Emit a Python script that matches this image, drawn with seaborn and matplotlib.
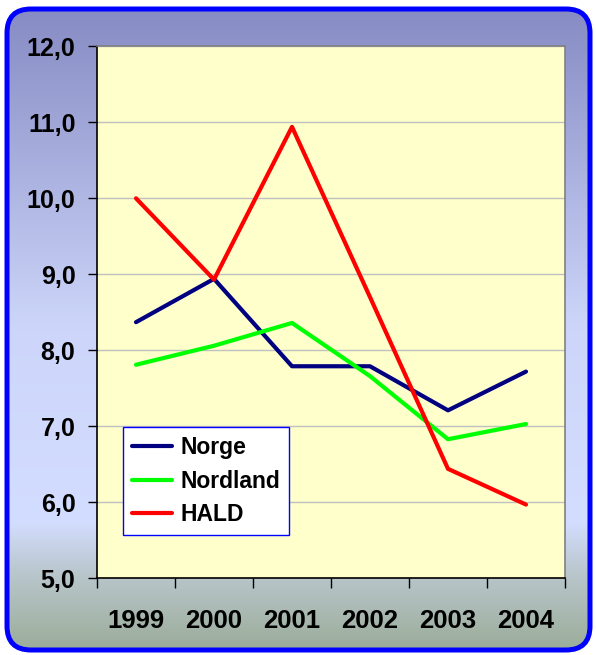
import numpy as np
import pandas as pd
import matplotlib
matplotlib.use("Agg")
import matplotlib.pyplot as plt
from matplotlib.colors import LinearSegmentedColormap
from matplotlib.patches import FancyBboxPatch
from matplotlib.ticker import FixedLocator
import seaborn as sns

years = ["1999", "2000", "2001", "2002", "2003", "2004"]
norge = [8.37, 8.94, 7.79, 7.79, 7.21, 7.72]
nordland = [7.81, 8.06, 8.36, 7.66, 6.83, 7.03]
hald = [10.0, 8.93, 10.94, 8.70, 6.44, 5.97]

series = ["Norge", "Nordland", "HALD"]
colors = ["#000080", "#00ff00", "#ff0000"]
y_ticks = [5, 6, 7, 8, 9, 10, 11, 12]

df = pd.DataFrame({
    "year": years * 3,
    "value": norge + nordland + hald,
    "serie": np.repeat(series, len(years)),
})

sns.set_style("white")
plt.rcParams["font.family"] = ["Liberation Sans", "DejaVu Sans"]
plt.rcParams["font.weight"] = "bold"
plt.rcParams["text.color"] = "black"
plt.rcParams["xtick.color"] = "black"
plt.rcParams["ytick.color"] = "black"

fig = plt.figure(figsize=(5.96, 6.55), dpi=100)

# background with rounded blue frame
bg = fig.add_axes([0, 0, 1, 1], zorder=-5)
bg.set_axis_off()
bg.set_xlim(0, 596)
bg.set_ylim(655, 0)
cmap = LinearSegmentedColormap.from_list("bg", [
    (0.0, "#868bc3"), (0.5, "#cdd6fa"), (0.8, "#d3ddff"),
    (0.88, "#b9c6cc"), (1.0, "#9aac98")])
grad = np.linspace(0, 1, 256).reshape(-1, 1)
img = bg.imshow(grad, cmap=cmap, aspect="auto", extent=(5, 592, 652, 7))
frame = FancyBboxPatch((7, 9), 583, 641, boxstyle="round,pad=0,rounding_size=24",
                       facecolor="none", edgecolor="#0000ff", linewidth=3.6)
bg.add_patch(frame)
img.set_clip_path(frame)

ax = fig.add_axes([97 / 596, 1 - 578.3 / 655, 468 / 596, 532 / 655])
ax.set_facecolor("#ffffcc")

sns.lineplot(data=df, x="year", y="value", hue="serie", palette=colors,
             linewidth=3, ax=ax, sort=False)

ax.set_xlim(-0.5, 5.5)
ax.set_ylim(5, 12)
ax.set_yticks(y_ticks)
ax.set_yticklabels([f"{v},0" for v in y_ticks])
ax.grid(axis="y", color="#c0c0c0", linewidth=1)
ax.set_axisbelow(True)
ax.set_xlabel("")
ax.set_ylabel("")

ax.xaxis.set_minor_locator(FixedLocator(np.arange(-0.5, 6, 1)))
ax.tick_params(axis="x", which="major", length=0, pad=22, labelsize=18.5,
               labelcolor="black")
ax.tick_params(axis="x", which="minor", direction="out", length=7, width=1,
               color="black", bottom=True)
ax.tick_params(axis="y", direction="out", length=6.5, width=1, color="black",
               pad=9, labelsize=18, labelcolor="black", left=True)

for side in ["left", "bottom"]:
    ax.spines[side].set_color("black")
    ax.spines[side].set_linewidth(1.2)
for side in ["top", "right"]:
    ax.spines[side].set_color("#808080")
    ax.spines[side].set_linewidth(1.2)

handles, labels = ax.get_legend_handles_labels()
leg = ax.legend(handles, labels, loc="lower left", bbox_to_anchor=(0.056, 0.081),
                frameon=True, fancybox=False, framealpha=1, edgecolor="#0000ff",
                prop={"size": 16.5, "weight": "bold"}, handlelength=1.75,
                handletextpad=0.35, labelspacing=0.45, borderpad=0.4,
                borderaxespad=0)
leg.get_frame().set_linewidth(1)
for line in leg.get_lines():
    line.set_linewidth(3)
for text in leg.get_texts():
    text.set_color("black")

fig.savefig("out.png", dpi=100)
